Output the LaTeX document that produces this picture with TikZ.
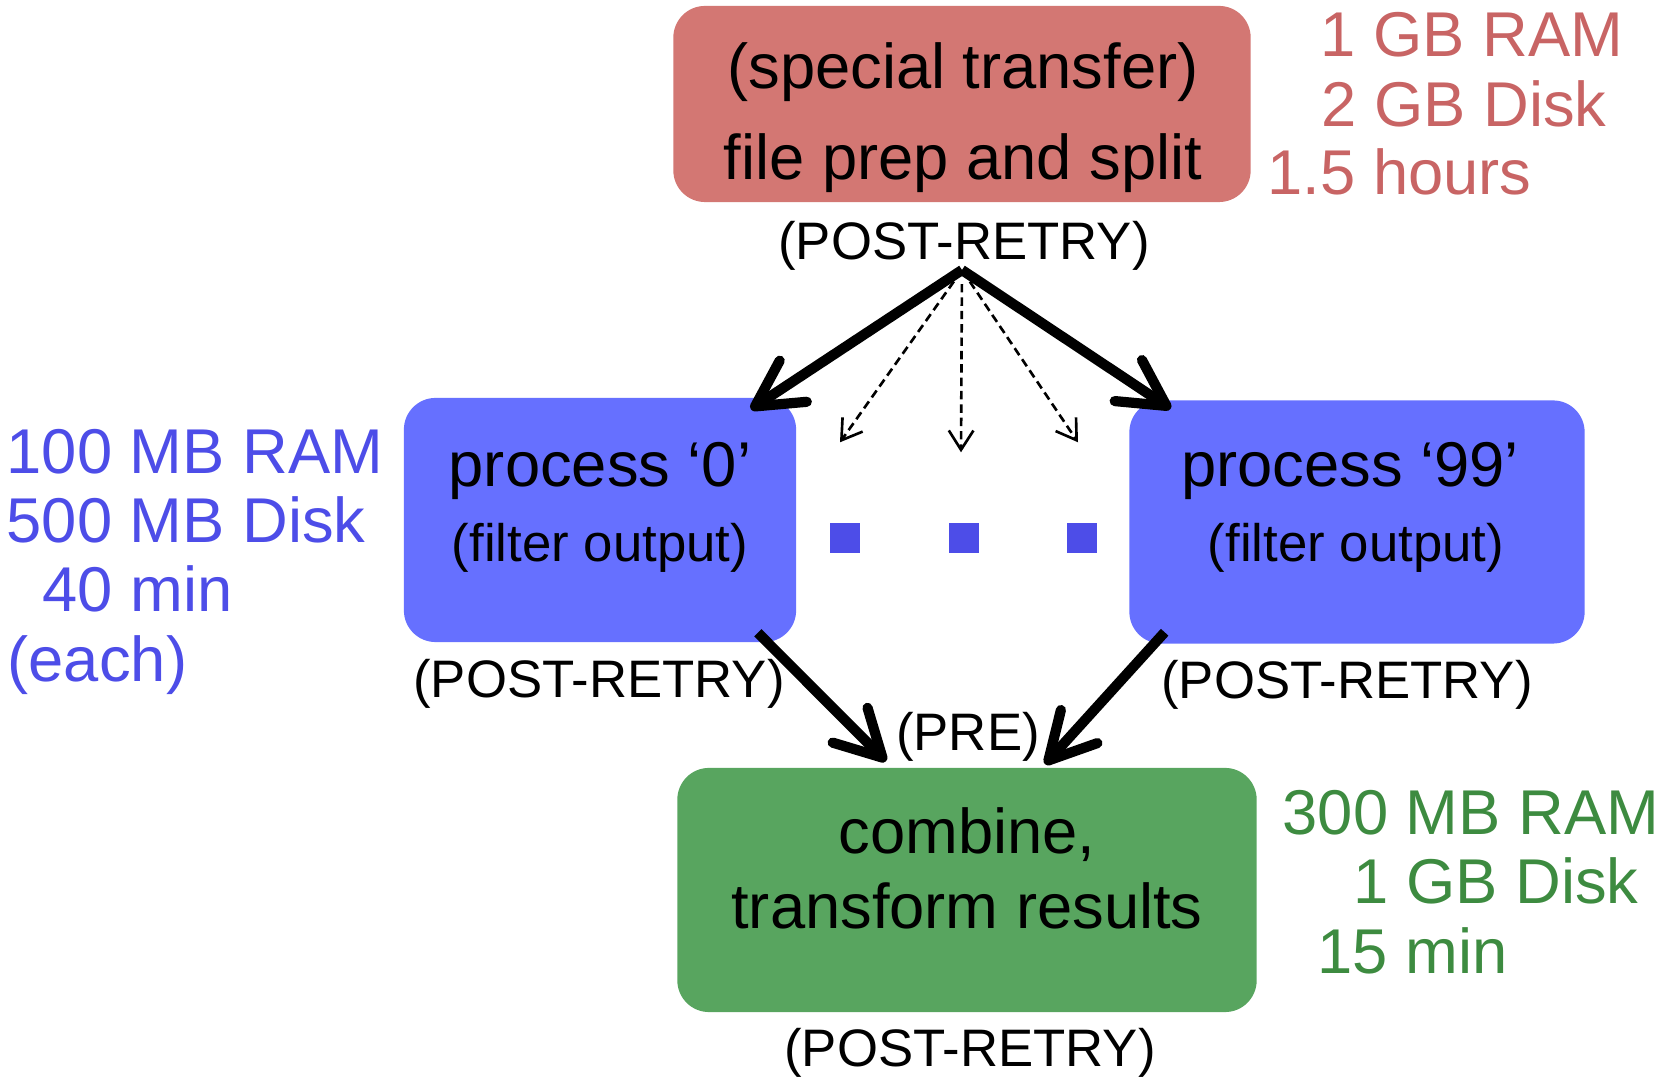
\documentclass[tikz,border=0pt]{standalone}
\usepackage{fontspec}
\setmainfont{Liberation Sans}
\usetikzlibrary{arrows.meta}

\definecolor{prepfill}{RGB}{211,119,115}
\definecolor{preptext}{RGB}{200,100,100}
\definecolor{procfill}{RGB}{102,112,255}
\definecolor{proctext}{RGB}{77,77,232}
\definecolor{combfill}{RGB}{88,165,95}
\definecolor{combtext}{RGB}{61,139,64}

\tikzset{
  jobbox/.style={rounded corners=9pt, inner sep=0pt},
  big/.style={inner sep=0pt, font=\fontsize{18}{21}\selectfont},
  small/.style={inner sep=0pt, font=\fontsize{15}{18}\selectfont},
  dot/.style={fill=proctext, minimum size=0.3cm, inner sep=0pt},
  bigarrow/.style={line width=2.9pt, -{Straight Barb[round, length=13pt, width=14pt]}},
  dasharrow/.style={line width=0.75pt, dash pattern=on 2.4pt off 1.4pt, shorten <=4pt,
    -{Straight Barb[length=5.5pt, width=7pt]}},
}

\begin{document}
\begin{tikzpicture}[x=0.01cm, y=-0.01cm]
\useasboundingbox (0,0) rectangle (1666,1077);

% jobs
\node[jobbox, fill=prepfill, minimum width=5.77cm, minimum height=1.96cm] (prep) at (962,104) {};
\node[jobbox, fill=procfill, minimum width=3.92cm, minimum height=2.44cm] (proc0) at (600,520) {};
\node[jobbox, fill=procfill, minimum width=4.55cm, minimum height=2.43cm] (proc99) at (1357,522) {};
\node[jobbox, fill=combfill, minimum width=5.79cm, minimum height=2.44cm] (comb) at (967,890) {};

\node[big] (prep1) at (963,72) {(special transfer)};
\node[big] (prep2) at (963,163) {file prep and split};

\node[big] (proc0a) at (600,471) {process ‘0’};
\node[small] (proc0b) at (600,548) {(filter output)};

\node[big] (proc99a) at (1350,471) {process ‘99’};
\node[small] (proc99b) at (1356,548) {(filter output)};

\node[big] (comb1) at (967,835) {combine,};
\node[big] (comb2) at (967,906) {transform results};

% scripts
\node[small] (preppost) at (964,246) {(POST-RETRY)};
\node[small] (proc0post) at (599,684) {(POST-RETRY)};
\node[small] (proc99post) at (1347,685) {(POST-RETRY)};
\node[small] (combpre) at (968,737) {(PRE)};
\node[small] (combpost) at (970,1053) {(POST-RETRY)};

% resources
\node[big, anchor=west, text=preptext] (prepram) at (1320,35) {1 GB RAM};
\node[big, anchor=west, text=preptext] (prepdisk) at (1321,104) {2 GB Disk};
\node[big, anchor=west, text=preptext] (preptime) at (1267,172) {1.5 hours};

\node[big, anchor=west, text=proctext] (procram) at (6,452) {100 MB RAM};
\node[big, anchor=west, text=proctext] (procdisk) at (6,520) {500 MB Disk};
\node[big, anchor=west, text=proctext] (proctime) at (42,589) {40 min};
\node[big, anchor=west, text=proctext] (proceach) at (7,665) {(each)};

\node[big, anchor=west, text=combtext] (combram) at (1282,813) {300 MB RAM};
\node[big, anchor=west, text=combtext] (combdisk) at (1353,881) {1 GB Disk};
\node[big, anchor=west, text=combtext] (combtime) at (1317,951) {15 min};

% the jobs in between
\foreach \dx/\name in {845/dotl, 964/dotm, 1082/dotr}
  \node[dot] (\name) at (\dx,538) {};

% edges
\coordinate (fork) at (962,270);
\draw[bigarrow] (fork) -- ([shift={(-46,12)}]proc0.north east);
\draw[bigarrow] (fork) -- ([shift={(42,9)}]proc99.north west);
\foreach \name/\dx/\dy in {dotl/-5/-80, dotm/-3/-70, dotr/-4/-80}
  \draw[dasharrow] (fork) -- ([shift={(\dx,\dy)}]\name.north);

\draw[bigarrow] ([shift={(-39,-10)}]proc0.south east) -- ([shift={(-81,-6)}]comb.north);
\draw[bigarrow] ([shift={(36,-12)}]proc99.south west) -- ([shift={(78,-3)}]comb.north);

\end{tikzpicture}
\end{document}
